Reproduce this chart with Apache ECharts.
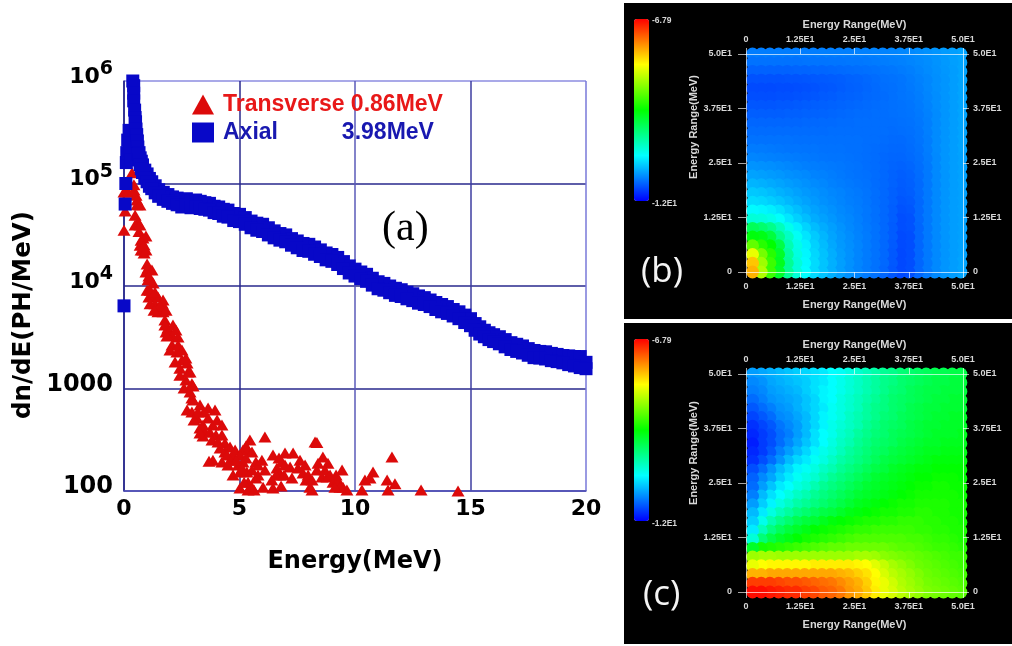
<!DOCTYPE html>
<html><head><meta charset="utf-8">
<style>html,body{margin:0;padding:0;background:#fff}#c{width:1012px;height:646px;filter:blur(0.55px)}</style>
<script src="https://cdn.jsdelivr.net/npm/echarts@6/dist/echarts.min.js"></script>
</head><body><div id="c"></div>
<script>
const transverseName='Transverse 0.86MeV';
const axialName='Axial          3.98MeV';
const axialPeakEnergy=[0,.05,.08,.1,.12,.16,.22,.26,.3,.38,.42,.42,.42,.46,.48,.5,.52,.55,.58];
const axialPeakFlux=[6400,63000,100000,160000,200000,265000,330000,210000,170000,1000000,900000,760000,640000,520000,440000,400000,340000,300000,260000];
const axialEnergy=[.6,.65,.7,.75,.8,.9,1,1.1,1.2,1.35,1.5,1.7,1.9,2.1,2.3,2.5,2.7,2.9,3.1,3.3,3.5,3.7,3.9,4.1,4.3,4.5,4.75,5,5.25,5.5,5.75,6,6.25,6.5,6.75,7,7.25,7.5,7.75,8,8.25,8.5,8.75,9,9.25,9.5,9.75,10,10.25,10.5,10.75,11,11.25,11.5,11.75,12,12.25,12.5,12.75,13,13.25,13.5,13.75,14,14.25,14.5,14.75,15,15.2,15.4,15.6,15.8,16,16.25,16.5,16.75,17,17.25,17.5,17.75,18,18.25,18.5,18.75,19,19.25,19.5,19.75,20];
const axialFluxUpper=[227000,200000,178000,165000,152000,135000,124000,112000,104000,95000,87000,82000,78000,74000,72000,69000,71000,68000,69000,67000,65000,64000,60000,59000,56000,55000,51000,50000,46500,43000,41000,40000,37000,34500,32500,31500,29000,27500,26000,25500,24000,22500,21000,20300,19000,17300,15700,14600,13700,13000,11900,11000,10600,10000,9500,9200,8700,8400,8000,7700,7300,6900,6600,6300,5900,5600,5200,4800,4300,4000,3700,3500,3350,3200,3000,2800,2700,2600,2450,2350,2300,2280,2200,2150,2100,2080,2050,2050,1800];
const axialFluxLower=[195000,171000,153000,139000,128000,113000,104000,94000,89000,81000,75000,70000,67000,64000,62000,59000,61000,58000,59000,57000,56000,55000,52000,51000,48000,47000,43500,42500,40000,37000,35000,34000,31500,29500,28000,27000,25000,23600,22200,21800,20400,19400,18000,17400,16200,14800,13400,12500,11800,11100,10200,9400,9100,8600,8100,7900,7500,7200,6800,6600,6300,5900,5600,5400,5100,4800,4400,4100,3700,3400,3200,3000,2870,2730,2550,2400,2300,2220,2110,2000,1980,1940,1870,1830,1780,1710,1660,1600,1560];
const transverseEnergy=[.35,.1,0,.18,.05,0,.43,.52,.56,.48,.6,.65,.74,.82,.7,.87,1,.95,1.04,1,1.08,1.25,1.47,1.13,1.34,1.65,1.69,1.47,1.77,1.9,2.08,1.82,2.34,2.08,2.29,2.51,2.73,2.42,2.77,2.68,2.94,2.86,2.99,2.73,3.29,3.46,3.94,3.16,3.64,3.85,4.24,3.29,3.5,3.98,4.37,3.42,3.85,4.37,4.24,4.59,4.72,4.94,5.15,5.15,5.45,5.37,5.71,6.1,5.8,4.72,5.02,5.32,5.37,5.02,5.54,6.02,5.71,6.45,6.8,6.45,6.97,7.32,6.62,6.84,7.19,6.75,7.62,7.75,7.88,8.05,8.14,8.27,8.35,8.61,8.4,8.83,9.44,8.57,8.79,9.05,9.26,9.48,9.65,10.3,10.43,10.78,10.65,11.6,11.39,11.73,11.43,12.86,14.46,
.43,.56,.69,.48,.69,.82,.95,.74,.95,.87,1.04,1.21,1.08,1.26,1.13,1.34,1.69,1.56,1.3,1.82,1.77,2.12,1.86,2.25,2.34,1.99,2.51,2.21,2.68,2.42,2.86,2.6,2.99,2.94,2.94,3.2,3.64,3.03,3.42,4.03,3.29,3.72,4.24,3.81,4.07,4.59,4.16,4.81,4.46,5.02,5.28,4.85,5.54,5.28,4.5,5.11,5.54,5.97,3.68,6.1,5.8,5.37,5.63,5.2,6.71,6.97,6.58,6.93,7.27,7.53,7.84,7.97,8.14,8.35,8.7,8.92,9.18,9.35,9.13,6.4];
const transverseFlux=[127000,82600,82600,82600,54000,35000,97000,77000,62000,49000,42000,34000,28000,22500,25000,21000,16400,13700,11500,9100,7800,8200,7800,6700,6700,6800,5600,5600,4660,3900,3300,3560,3180,2660,2270,1900,1770,1580,1450,1210,1110,925,773,617,690,590,617,515,515,440,440,412,377,352,294,344,200,240,192,200,224,179,251,192,315,251,192,336,179,143,153,153,122,107,109,109,134,107,112,224,235,235,168,192,171,143,200,150,128,109,102,301,297,215,187,187,160,137,137,122,128,109,102,102,128,153,134,215,128,118,102,102,100,
86500,69000,61700,39400,39400,29400,30700,22400,22400,25100,15000,14300,12500,10700,9100,8700,7300,6400,5800,5800,4170,4170,3250,3720,2660,2380,2380,1810,1980,1350,1450,1010,1060,808,590,590,645,493,440,493,368,377,352,315,301,269,263,251,224,224,275,200,240,210,179,168,160,200,195,160,143,102,102,122,210,179,143,143,134,168,179,143,128,160,160,143,143,109,109,128];
const yTickLabels={100:'100',1000:'1000',10000:'{b|10}{s|4}',100000:'{b|10}{s|5}',1000000:'{b|10}{s|6}'};
const mapTickLabels={0:'0',12.5:'1.25E1',25:'2.5E1',37.5:'3.75E1',50:'5.0E1'};
const mapMin=-12, mapMax=-6.79;
const mapMaxLabel='-6.79', mapMinLabel='-1.2E1';
const mapAxisName='Energy Range(MeV)';
const cellX=[1.5,3.5,5.5,7.5,9.5,11.5,13.5,15.5,17.5,19.5,21.5,23.5,25.5,27.5,29.5,31.5,33.5,35.5,37.5,39.5,41.5,43.5,45.5,47.5,49.5];
const cellY=[50,48,46,44,42,40,38,36,34,32,30,28,26,24,22,20,18,16,14,12,10,8,6,4,2,0];
const panelB=[
[-11.36,-11.36,-11.36,-11.36,-11.36,-11.36,-11.36,-11.36,-11.35,-11.35,-11.35,-11.35,-11.34,-11.34,-11.33,-11.33,-11.32,-11.31,-11.3,-11.28,-11.26,-11.24,-11.21,-11.19,-11.16],
[-11.42,-11.42,-11.42,-11.42,-11.42,-11.42,-11.41,-11.41,-11.41,-11.4,-11.4,-11.39,-11.39,-11.38,-11.37,-11.36,-11.35,-11.34,-11.32,-11.3,-11.28,-11.25,-11.22,-11.19,-11.16],
[-11.5,-11.5,-11.5,-11.5,-11.5,-11.49,-11.49,-11.48,-11.48,-11.47,-11.46,-11.45,-11.44,-11.43,-11.42,-11.4,-11.39,-11.37,-11.35,-11.32,-11.29,-11.26,-11.23,-11.2,-11.16],
[-11.58,-11.58,-11.58,-11.58,-11.57,-11.57,-11.56,-11.55,-11.54,-11.53,-11.52,-11.5,-11.49,-11.47,-11.45,-11.43,-11.42,-11.4,-11.37,-11.34,-11.31,-11.27,-11.24,-11.2,-11.16],
[-11.62,-11.62,-11.62,-11.61,-11.61,-11.6,-11.59,-11.58,-11.56,-11.55,-11.53,-11.51,-11.5,-11.48,-11.46,-11.44,-11.43,-11.41,-11.38,-11.35,-11.31,-11.27,-11.24,-11.2,-11.16],
[-11.6,-11.6,-11.6,-11.59,-11.59,-11.58,-11.57,-11.56,-11.54,-11.53,-11.51,-11.5,-11.49,-11.47,-11.46,-11.45,-11.43,-11.41,-11.39,-11.36,-11.32,-11.28,-11.24,-11.2,-11.16],
[-11.56,-11.56,-11.56,-11.55,-11.55,-11.54,-11.53,-11.52,-11.51,-11.5,-11.49,-11.48,-11.47,-11.46,-11.45,-11.44,-11.43,-11.42,-11.4,-11.37,-11.33,-11.28,-11.24,-11.2,-11.16],
[-11.52,-11.52,-11.52,-11.52,-11.51,-11.51,-11.5,-11.5,-11.49,-11.48,-11.47,-11.46,-11.45,-11.45,-11.44,-11.44,-11.43,-11.42,-11.41,-11.38,-11.34,-11.29,-11.24,-11.2,-11.16],
[-11.48,-11.48,-11.48,-11.48,-11.48,-11.48,-11.47,-11.47,-11.46,-11.46,-11.45,-11.45,-11.44,-11.44,-11.44,-11.44,-11.44,-11.43,-11.42,-11.39,-11.35,-11.29,-11.24,-11.2,-11.16],
[-11.45,-11.45,-11.45,-11.45,-11.45,-11.45,-11.45,-11.45,-11.45,-11.44,-11.44,-11.44,-11.44,-11.44,-11.44,-11.44,-11.45,-11.44,-11.43,-11.4,-11.35,-11.29,-11.24,-11.2,-11.16],
[-11.42,-11.42,-11.42,-11.42,-11.42,-11.43,-11.43,-11.43,-11.43,-11.43,-11.43,-11.43,-11.43,-11.44,-11.44,-11.45,-11.46,-11.46,-11.44,-11.41,-11.36,-11.29,-11.24,-11.2,-11.16],
[-11.37,-11.37,-11.38,-11.39,-11.4,-11.4,-11.41,-11.41,-11.42,-11.42,-11.42,-11.43,-11.43,-11.44,-11.45,-11.46,-11.47,-11.47,-11.45,-11.42,-11.36,-11.29,-11.24,-11.2,-11.16],
[-11.32,-11.33,-11.34,-11.35,-11.36,-11.37,-11.38,-11.39,-11.4,-11.41,-11.41,-11.42,-11.43,-11.44,-11.45,-11.47,-11.48,-11.48,-11.46,-11.43,-11.37,-11.3,-11.24,-11.2,-11.17],
[-11.25,-11.26,-11.27,-11.29,-11.31,-11.33,-11.35,-11.36,-11.37,-11.38,-11.39,-11.41,-11.42,-11.44,-11.45,-11.47,-11.49,-11.5,-11.48,-11.44,-11.38,-11.3,-11.24,-11.2,-11.17],
[-11.17,-11.19,-11.21,-11.23,-11.26,-11.28,-11.3,-11.33,-11.34,-11.36,-11.38,-11.4,-11.42,-11.43,-11.45,-11.47,-11.5,-11.52,-11.5,-11.45,-11.38,-11.3,-11.24,-11.2,-11.17],
[-11.08,-11.1,-11.13,-11.16,-11.2,-11.23,-11.26,-11.29,-11.31,-11.34,-11.36,-11.38,-11.4,-11.42,-11.45,-11.47,-11.5,-11.53,-11.51,-11.46,-11.38,-11.3,-11.24,-11.2,-11.17],
[-10.98,-11,-11.04,-11.09,-11.13,-11.18,-11.22,-11.25,-11.28,-11.31,-11.33,-11.36,-11.38,-11.41,-11.44,-11.47,-11.51,-11.54,-11.52,-11.46,-11.38,-11.3,-11.24,-11.2,-11.18],
[-10.88,-10.9,-10.95,-11,-11.06,-11.12,-11.17,-11.22,-11.26,-11.29,-11.32,-11.35,-11.37,-11.4,-11.44,-11.47,-11.51,-11.56,-11.54,-11.47,-11.38,-11.3,-11.24,-11.2,-11.18],
[-10.72,-10.74,-10.78,-10.85,-10.95,-11.03,-11.11,-11.17,-11.22,-11.26,-11.3,-11.33,-11.36,-11.39,-11.43,-11.47,-11.52,-11.58,-11.56,-11.47,-11.38,-11.3,-11.24,-11.2,-11.18],
[-10.5,-10.52,-10.58,-10.68,-10.82,-10.94,-11.03,-11.12,-11.18,-11.23,-11.28,-11.31,-11.35,-11.39,-11.43,-11.47,-11.52,-11.6,-11.58,-11.47,-11.38,-11.3,-11.24,-11.2,-11.18],
[-9.85,-9.95,-10.1,-10.35,-10.6,-10.78,-10.92,-11.04,-11.12,-11.19,-11.25,-11.3,-11.34,-11.38,-11.42,-11.47,-11.53,-11.6,-11.58,-11.48,-11.38,-11.3,-11.24,-11.2,-11.18],
[-9.45,-9.5,-9.7,-10.1,-10.4,-10.65,-10.83,-10.97,-11.07,-11.16,-11.23,-11.28,-11.33,-11.37,-11.42,-11.47,-11.53,-11.62,-11.6,-11.48,-11.38,-11.3,-11.24,-11.2,-11.18],
[-8.9,-9.2,-9.4,-9.75,-10.3,-10.58,-10.77,-10.93,-11.04,-11.14,-11.22,-11.27,-11.32,-11.37,-11.42,-11.47,-11.54,-11.62,-11.6,-11.48,-11.38,-11.3,-11.24,-11.2,-11.17],
[-8.2,-8.8,-9.2,-9.6,-10.2,-10.55,-10.74,-10.9,-11.01,-11.11,-11.2,-11.26,-11.32,-11.37,-11.42,-11.47,-11.55,-11.63,-11.6,-11.48,-11.38,-11.3,-11.24,-11.2,-11.17],
[-7.8,-8.6,-9.1,-9.55,-10.15,-10.5,-10.72,-10.88,-11,-11.1,-11.19,-11.26,-11.32,-11.37,-11.42,-11.47,-11.55,-11.63,-11.6,-11.48,-11.38,-11.3,-11.24,-11.2,-11.16],
[-7.7,-8.5,-9.1,-9.6,-10.15,-10.5,-10.7,-10.88,-11,-11.1,-11.19,-11.26,-11.32,-11.37,-11.42,-11.48,-11.56,-11.63,-11.6,-11.48,-11.38,-11.3,-11.24,-11.2,-11.16]
];
const panelC=[
[-11.2,-11.15,-11.1,-11.05,-11,-10.95,-10.9,-10.85,-10.8,-10.7,-10.65,-10.55,-10.45,-10.35,-10.25,-10.15,-10.1,-10,-9.95,-9.9,-9.85,-9.8,-9.8,-9.75,-9.75],
[-11.3,-11.25,-11.15,-11.1,-11.05,-11,-10.95,-10.85,-10.8,-10.7,-10.6,-10.5,-10.4,-10.3,-10.2,-10.1,-10.05,-9.95,-9.9,-9.85,-9.8,-9.75,-9.75,-9.7,-9.7],
[-11.35,-11.3,-11.2,-11.15,-11.1,-11.05,-10.95,-10.85,-10.75,-10.7,-10.6,-10.5,-10.4,-10.3,-10.2,-10.1,-10,-9.95,-9.85,-9.8,-9.75,-9.75,-9.7,-9.7,-9.7],
[-11.45,-11.35,-11.25,-11.2,-11.15,-11.1,-11,-10.9,-10.75,-10.7,-10.55,-10.45,-10.35,-10.25,-10.15,-10.05,-9.95,-9.9,-9.85,-9.8,-9.75,-9.7,-9.7,-9.65,-9.65],
[-11.55,-11.45,-11.35,-11.25,-11.2,-11.1,-11,-10.9,-10.8,-10.65,-10.55,-10.45,-10.35,-10.2,-10.1,-10.05,-9.95,-9.9,-9.8,-9.75,-9.7,-9.7,-9.65,-9.65,-9.65],
[-11.65,-11.55,-11.45,-11.3,-11.25,-11.15,-11.05,-10.9,-10.75,-10.65,-10.55,-10.4,-10.3,-10.2,-10.1,-10,-9.95,-9.85,-9.8,-9.75,-9.7,-9.65,-9.65,-9.6,-9.6],
[-11.75,-11.65,-11.55,-11.4,-11.3,-11.2,-11.05,-10.9,-10.75,-10.6,-10.5,-10.4,-10.3,-10.15,-10.05,-9.95,-9.9,-9.85,-9.75,-9.7,-9.65,-9.65,-9.6,-9.6,-9.6],
[-11.8,-11.7,-11.6,-11.45,-11.35,-11.2,-11.05,-10.85,-10.7,-10.6,-10.45,-10.35,-10.2,-10.1,-10,-9.95,-9.85,-9.8,-9.75,-9.7,-9.65,-9.6,-9.6,-9.6,-9.55],
[-11.85,-11.7,-11.6,-11.45,-11.3,-11.15,-11,-10.85,-10.7,-10.55,-10.4,-10.3,-10.15,-10.05,-9.95,-9.9,-9.85,-9.75,-9.7,-9.65,-9.6,-9.6,-9.55,-9.55,-9.55],
[-11.8,-11.7,-11.55,-11.35,-11.2,-11.05,-10.9,-10.75,-10.6,-10.5,-10.35,-10.2,-10.1,-10,-9.9,-9.85,-9.75,-9.7,-9.65,-9.6,-9.55,-9.55,-9.5,-9.5,-9.5],
[-11.75,-11.6,-11.45,-11.25,-11.05,-10.9,-10.8,-10.65,-10.55,-10.4,-10.25,-10.15,-10.05,-9.95,-9.85,-9.75,-9.7,-9.65,-9.6,-9.55,-9.5,-9.45,-9.45,-9.45,-9.45],
[-11.6,-11.45,-11.25,-11.05,-10.9,-10.75,-10.65,-10.55,-10.4,-10.3,-10.15,-10.05,-9.95,-9.85,-9.75,-9.7,-9.6,-9.55,-9.5,-9.45,-9.45,-9.4,-9.4,-9.4,-9.4],
[-11.5,-11.3,-11.15,-10.95,-10.8,-10.65,-10.55,-10.45,-10.3,-10.15,-10.05,-9.95,-9.85,-9.75,-9.65,-9.6,-9.55,-9.5,-9.45,-9.4,-9.4,-9.35,-9.35,-9.35,-9.4],
[-11.45,-11.2,-11,-10.8,-10.7,-10.55,-10.45,-10.3,-10.15,-10.05,-9.95,-9.85,-9.75,-9.65,-9.6,-9.55,-9.5,-9.45,-9.4,-9.35,-9.35,-9.3,-9.3,-9.35,-9.35],
[-11.35,-11.05,-10.85,-10.7,-10.55,-10.4,-10.3,-10.15,-10.05,-9.95,-9.85,-9.75,-9.65,-9.6,-9.55,-9.5,-9.45,-9.4,-9.35,-9.3,-9.3,-9.3,-9.3,-9.3,-9.35],
[-11.2,-10.95,-10.75,-10.55,-10.4,-10.25,-10.15,-10.05,-9.95,-9.85,-9.75,-9.65,-9.55,-9.5,-9.45,-9.4,-9.35,-9.3,-9.3,-9.25,-9.25,-9.25,-9.25,-9.3,-9.3],
[-11.05,-10.8,-10.55,-10.35,-10.2,-10.05,-9.95,-9.85,-9.75,-9.7,-9.6,-9.5,-9.45,-9.4,-9.35,-9.3,-9.3,-9.25,-9.25,-9.2,-9.2,-9.25,-9.25,-9.3,-9.3],
[-10.95,-10.6,-10.3,-10.1,-9.95,-9.8,-9.7,-9.65,-9.55,-9.45,-9.4,-9.35,-9.3,-9.25,-9.25,-9.2,-9.2,-9.15,-9.15,-9.15,-9.2,-9.2,-9.25,-9.25,-9.3],
[-10.8,-10.35,-10.05,-9.85,-9.7,-9.6,-9.5,-9.4,-9.35,-9.3,-9.25,-9.2,-9.15,-9.15,-9.1,-9.1,-9.1,-9.1,-9.1,-9.15,-9.15,-9.2,-9.2,-9.25,-9.25],
[-10.5,-10,-9.75,-9.6,-9.5,-9.4,-9.3,-9.25,-9.2,-9.15,-9.1,-9.05,-9,-9,-9,-9,-9,-9,-9.05,-9.05,-9.1,-9.15,-9.15,-9.2,-9.25],
[-9.6,-9.3,-9.25,-9.2,-9.15,-9.1,-9.05,-9,-8.95,-8.9,-8.9,-8.85,-8.85,-8.85,-8.85,-8.85,-8.9,-8.95,-8.95,-9,-9.05,-9.1,-9.1,-9.15,-9.2],
[-8.6,-8.55,-8.55,-8.6,-8.6,-8.6,-8.6,-8.6,-8.6,-8.6,-8.6,-8.6,-8.55,-8.55,-8.6,-8.7,-8.75,-8.8,-8.85,-8.9,-8.95,-9,-9.05,-9.1,-9.1],
[-8.2,-8.1,-8.05,-8.05,-8.05,-8.05,-8.05,-8,-8,-8,-8,-8,-8.05,-8.1,-8.25,-8.4,-8.55,-8.65,-8.75,-8.85,-8.9,-8.95,-9,-9.05,-9.1],
[-7.7,-7.7,-7.65,-7.65,-7.65,-7.65,-7.65,-7.65,-7.65,-7.65,-7.7,-7.75,-7.85,-7.95,-8.1,-8.3,-8.45,-8.55,-8.65,-8.75,-8.85,-8.9,-8.95,-9,-9.05],
[-7.1,-7.1,-7.1,-7.15,-7.2,-7.2,-7.25,-7.3,-7.35,-7.4,-7.5,-7.6,-7.7,-7.85,-8.05,-8.2,-8.35,-8.5,-8.6,-8.7,-8.8,-8.85,-8.9,-8.95,-9],
[-6.85,-6.85,-6.9,-6.95,-7,-7,-7.1,-7.15,-7.25,-7.3,-7.4,-7.55,-7.65,-7.8,-8,-8.2,-8.3,-8.45,-8.55,-8.65,-8.75,-8.8,-8.85,-8.9,-8.95]
];

const zip=(a,b)=>a.map((v,i)=>[v,b[i]]);
const cells=m=>{const out=[];m.forEach((row,r)=>{for(let c=row.length-1;c>=0;c--)out.push([cellX[c],cellY[r],row[c]]);});return out;};
const spectrum=['#0000ff','#00ffff','#00ff00','#ffff00','#ff0000'];
const F='"Liberation Sans",Arial,sans-serif', D='"DejaVu Sans",sans-serif';
const dim='#d8d8d8';
const mapPanel=(top,idx,shiftName)=>{
  const label={show:true,color:dim,fontFamily:F,fontWeight:'bold',fontSize:9,formatter:v=>mapTickLabels[v]};
  const line={show:true,onZero:false,lineStyle:{color:'rgba(255,255,255,0.65)',width:1}};
  const tick={show:true,length:6,lineStyle:{color:'rgba(255,255,255,0.65)',width:1}};
  const nm={color:dim,fontFamily:F,fontWeight:'bold',fontSize:11};
  const base={type:'value',min:0,max:50,interval:12.5,gridIndex:idx,splitLine:{show:false},axisLine:line,axisTick:tick,z:5};
  return {
    grid:{left:746,width:217,top:top,height:218},
    x:[{...base,position:'bottom',axisLabel:{...label,margin:10},name:mapAxisName,nameLocation:'middle',nameGap:27,nameTextStyle:nm},
       {...base,position:'top',axisLabel:{...label,margin:10},name:mapAxisName,nameLocation:'middle',nameGap:24,nameTextStyle:nm}],
    y:[{...base,position:'left',axisTick:{...tick,length:8},axisLabel:{...label,margin:14},name:mapAxisName,nameLocation:'middle',nameGap:47,nameRotate:90,nameTextStyle:{...nm,padding:[0,0,0,shiftName]}},
       {...base,position:'right',axisLabel:{...label,margin:10}}]
  };
};
const pB=mapPanel(54,1,72), pC=mapPanel(374,2,60);
const chart=echarts.init(document.getElementById('c'),null,{renderer:'canvas'});
const sideText=(x,y,t)=>({type:'text',left:x,top:y,style:{text:t,fill:dim,font:'bold 8.5px '+F}});
chart.setOption({
  animation:false,
  backgroundColor:'#fff',
  graphic:[
    {type:'rect',shape:{x:624,y:3,width:388,height:316},style:{fill:'#000'},z:-10},
    {type:'rect',shape:{x:624,y:323,width:388,height:321},style:{fill:'#000'},z:-10},
    sideText(652,16,mapMaxLabel),sideText(652,199,mapMinLabel),
    sideText(652,336,mapMaxLabel),sideText(652,519,mapMinLabel),
    {type:'text',left:382,top:208,style:{text:'(a)',fill:'#000',font:'42px "Liberation Serif",serif'}},
    {type:'text',left:641,top:255,style:{text:'(b)',fill:'#f4f4f4',font:'35px "Open Sans",sans-serif'}},
    {type:'text',left:643,top:578,style:{text:'(c)',fill:'#f4f4f4',font:'35px "Open Sans",sans-serif'}}
  ],
  legend:{left:187,top:88,orient:'vertical',itemWidth:22,itemHeight:20,itemGap:5,selectedMode:false,
    data:[{name:transverseName,icon:'triangle',textStyle:{color:'#e81818'}},{name:axialName,icon:'rect',textStyle:{color:'#1818b0'}}],
    textStyle:{fontFamily:F,fontWeight:'bold',fontSize:23,padding:[0,0,0,4]}},
  grid:[{left:124,top:81,width:462,height:410},pB.grid,pC.grid],
  xAxis:[{type:'value',gridIndex:0,min:0,max:20,interval:5,
      axisLine:{onZero:false,lineStyle:{color:'#5050b8',width:1.5}},axisTick:{show:false},
      axisLabel:{color:'#000',fontFamily:D,fontWeight:'bold',fontSize:22,margin:7},
      splitLine:{show:true,lineStyle:{width:1.5,color:['#28288c','#28288c','#5a5ab8','#3c3ca0','#7878d8']}},
      name:'Energy(MeV)',nameLocation:'middle',nameGap:59,nameTextStyle:{color:'#000',fontFamily:D,fontWeight:'bold',fontSize:24}},
    ...pB.x,...pC.x],
  yAxis:[{type:'log',logBase:10,gridIndex:0,min:100,max:1000000,
      axisLine:{onZero:false,lineStyle:{color:'#28288c',width:1.5}},axisTick:{show:false},
      axisLabel:{color:'#000',fontFamily:D,fontWeight:'bold',margin:11,padding:[0,0,8,0],formatter:v=>yTickLabels[Math.round(v)],fontSize:24,
        rich:{b:{fontFamily:D,fontWeight:'bold',fontSize:22,color:'#000'},s:{fontFamily:D,fontWeight:'bold',fontSize:19,color:'#000',verticalAlign:'top',lineHeight:34}}},
      splitLine:{show:true,lineStyle:{width:1.5,color:['#3c3ca0','#28288c','#28288c','#28288c','#8c8ce0']}},
      name:'dn/dE(PH/MeV)',nameLocation:'middle',nameGap:88,nameTextStyle:{color:'#000',fontFamily:D,fontWeight:'bold',fontSize:24.5,padding:[0,58,0,0]}},
    ...pB.y,...pC.y],
  visualMap:[
    {type:'continuous',seriesIndex:2,min:mapMin,max:mapMax,left:619,top:4,itemWidth:15,itemHeight:182,calculable:false,show:true,text:null,showLabel:false,inRange:{color:spectrum},textStyle:{color:'transparent',fontSize:1}},
    {type:'continuous',seriesIndex:3,min:mapMin,max:mapMax,left:619,top:324,itemWidth:15,itemHeight:182,calculable:false,show:true,text:null,showLabel:false,inRange:{color:spectrum},textStyle:{color:'transparent',fontSize:1}}
  ],
  series:[
    {name:transverseName,type:'scatter',xAxisIndex:0,yAxisIndex:0,clip:false,symbol:'triangle',symbolSize:[13,11],itemStyle:{color:'#dc0a0a',opacity:1},data:zip(transverseEnergy,transverseFlux),z:2},
    {name:axialName,type:'scatter',xAxisIndex:0,yAxisIndex:0,clip:false,symbol:'rect',symbolSize:13,itemStyle:{color:'#0808c8',opacity:1},data:zip(axialPeakEnergy,axialPeakFlux).concat(zip(axialEnergy,axialFluxUpper),zip(axialEnergy,axialFluxLower)),z:3},
    {type:'scatter',xAxisIndex:1,yAxisIndex:1,clip:false,symbol:'circle',symbolSize:13,itemStyle:{opacity:1},data:cells(panelB),encode:{x:0,y:1},z:2},
    {type:'scatter',xAxisIndex:3,yAxisIndex:3,clip:false,symbol:'circle',symbolSize:13,itemStyle:{opacity:1},data:cells(panelC),encode:{x:0,y:1},z:2}
  ]
});
</script></body></html>
